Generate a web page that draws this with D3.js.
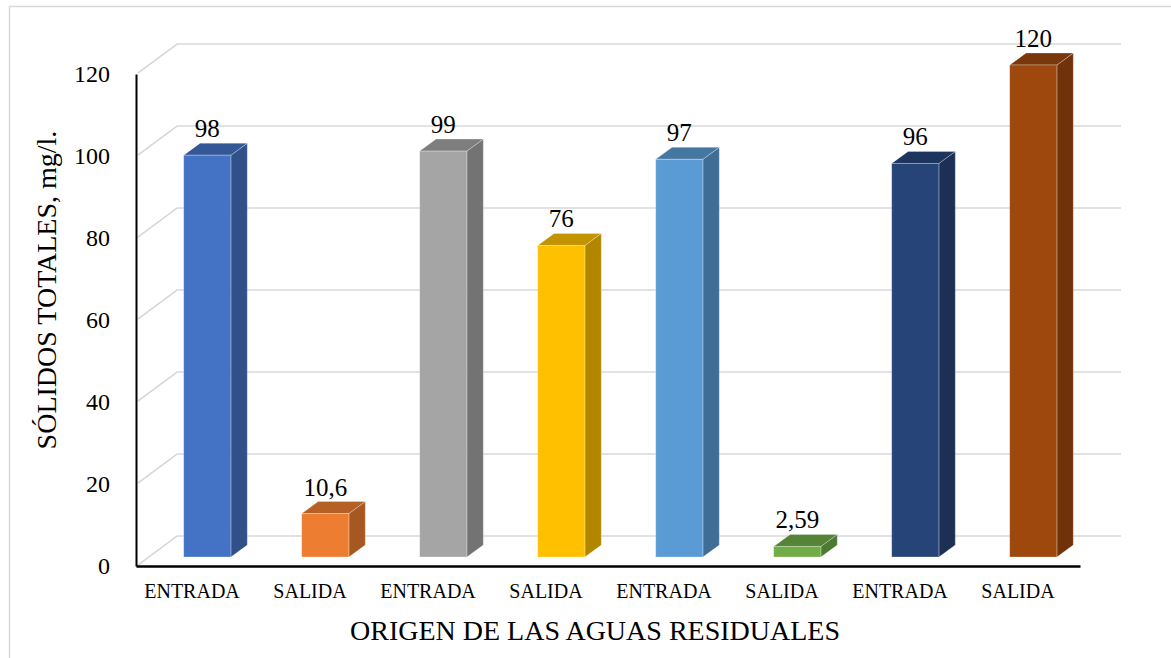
<!DOCTYPE html>
<html>
<head>
<meta charset="utf-8">
<script src="https://cdn.jsdelivr.net/npm/d3@7"></script>
<style>
  body { margin: 0; background: #fff; }
  svg { display: block; }
</style>
</head>
<body>
<div id="chart"></div>
<script>
var categories = ['ENTRADA', 'SALIDA', 'ENTRADA', 'SALIDA', 'ENTRADA', 'SALIDA', 'ENTRADA', 'SALIDA'];
var values = [98, 10.6, 99, 76, 97, 2.59, 96, 120];
var y_ticks = [0, 20, 40, 60, 80, 100, 120];
var palette = ['#4472C4', '#ED7D31', '#A5A5A5', '#FFC000', '#5B9BD5', '#70AD47', '#264478', '#9E480E'];

var chart_width = 1171;
var chart_height = 658;
var serif = "'Liberation Serif', 'Times New Roman', Times, serif";

// oblique depth of the floor / walls
var depth_x = 41;
var depth_y = -30;

var svg = d3.select('#chart')
    .append('svg')
    .attr('width', chart_width)
    .attr('height', chart_height);

// outer frame
svg.append('rect')
    .attr('x', 9.5)
    .attr('y', 6.5)
    .attr('width', 1200)
    .attr('height', 700)
    .attr('fill', 'none')
    .attr('stroke', '#d9d9d9')
    .attr('stroke-width', 1.5);

var x_scale = d3.scaleBand()
    .domain(d3.range(categories.length))
    .range([136, 1080]);

var y_scale = d3.scaleLinear()
    .domain([0, 120])
    .range([566, 74]);

function px(x, d) { return x + depth_x * d; }
function py(y, d) { return y + depth_y * d; }

// gridlines on side and back wall
var grid = svg.append('g').attr('class', 'grid');
grid.selectAll('path')
    .data(y_ticks)
    .enter()
    .append('path')
    .attr('d', function (t) {
        var y0 = y_scale(t);
        var x0 = x_scale.range()[0];
        var x1 = x_scale.range()[1];
        return 'M' + (x0 + 2) + ',' + (y0 - 1) +
            'L' + px(x0, 1) + ',' + py(y0, 1) +
            'L' + px(x1, 1) + ',' + py(y0, 1);
    })
    .attr('fill', 'none')
    .attr('stroke', '#d9d9d9')
    .attr('stroke-width', 1.6);

// 3d bars
var bw = x_scale.bandwidth();
var d_front = 0.3, d_back = 0.7;

var bars = svg.append('g')
    .attr('class', 'bars')
    .selectAll('g')
    .data(values)
    .enter()
    .append('g');

function barGeom(v, i) {
    var xl = x_scale(i) + bw * 0.3;
    var xr = x_scale(i) + bw * 0.7;
    var yt = y_scale(v);
    var yb = y_scale(0);
    return { xl: xl, xr: xr, yt: yt, yb: yb };
}

// side face
bars.append('path')
    .attr('d', function (v, i) {
        var g = barGeom(v, i);
        return 'M' + px(g.xr, d_front) + ',' + py(g.yt, d_front) +
            'L' + px(g.xr, d_back) + ',' + py(g.yt, d_back) +
            'L' + px(g.xr, d_back) + ',' + py(g.yb, d_back) +
            'L' + px(g.xr, d_front) + ',' + py(g.yb, d_front) + 'Z';
    })
    .attr('fill', function (v, i) { return d3.color(palette[i]).darker(1.0); })
    .attr('stroke', 'rgba(255,255,255,0.35)')
    .attr('stroke-width', 0.8);

// top face
bars.append('path')
    .attr('d', function (v, i) {
        var g = barGeom(v, i);
        return 'M' + px(g.xl, d_front) + ',' + py(g.yt, d_front) +
            'L' + px(g.xl, d_back) + ',' + py(g.yt, d_back) +
            'L' + px(g.xr, d_back) + ',' + py(g.yt, d_back) +
            'L' + px(g.xr, d_front) + ',' + py(g.yt, d_front) + 'Z';
    })
    .attr('fill', function (v, i) { return d3.color(palette[i]).darker(0.75); })
    .attr('stroke', 'rgba(255,255,255,0.35)')
    .attr('stroke-width', 0.8);

// front face
bars.append('rect')
    .attr('x', function (v, i) { return px(barGeom(v, i).xl, d_front); })
    .attr('y', function (v, i) { return py(barGeom(v, i).yt, d_front); })
    .attr('width', bw * 0.4)
    .attr('height', function (v, i) { var g = barGeom(v, i); return g.yb - g.yt; })
    .attr('fill', function (v, i) { return palette[i]; })
    .attr('stroke', 'rgba(255,255,255,0.35)')
    .attr('stroke-width', 0.8);

// value labels
bars.append('text')
    .attr('x', function (v, i) { return px(x_scale(i) + bw / 2, d_front); })
    .attr('y', function (v, i) { return py(y_scale(v), d_back) - 6; })
    .attr('text-anchor', 'middle')
    .style('font-family', serif)
    .style('font-size', '25px')
    .attr('fill', '#000')
    .text(function (v) { return String(v).replace('.', ','); });

// axes
var y_axis = d3.axisLeft(y_scale)
    .tickValues(y_ticks)
    .tickSize(0)
    .tickSizeOuter(0)
    .tickPadding(26);
var ya = svg.append('g')
    .attr('class', 'y-axis')
    .attr('transform', 'translate(' + x_scale.range()[0] + ',0)')
    .call(y_axis)
    .attr('font-family', null)
    .attr('font-size', null);
ya.select('.domain').attr('stroke', '#000').attr('stroke-width', 2);
ya.selectAll('text')
    .style('font-size', '24px')
    .style('font-family', serif)
    .attr('fill', '#000');

var x_axis = d3.axisBottom(x_scale)
    .tickSize(0)
    .tickSizeOuter(0)
    .tickPadding(18)
    .tickFormat(function (i) { return categories[i]; });
var xa = svg.append('g')
    .attr('class', 'x-axis')
    .attr('transform', 'translate(0,' + y_scale(0) + ')')
    .call(x_axis)
    .attr('font-family', null)
    .attr('font-size', null);
xa.select('.domain').attr('stroke', '#000').attr('stroke-width', 2.5);
xa.selectAll('text')
    .attr('dx', -3)
    .style('font-size', '20px')
    .style('font-family', serif)
    .attr('fill', '#000');

// axis titles
svg.append('text')
    .attr('x', 595)
    .attr('y', 640)
    .attr('text-anchor', 'middle')
    .style('font-family', serif)
    .style('font-size', '28px')
    .text('ORIGEN DE LAS AGUAS RESIDUALES');

svg.append('text')
    .attr('transform', 'translate(56,290) rotate(-90)')
    .attr('text-anchor', 'middle')
    .style('font-family', serif)
    .style('font-size', '28px')
    .text('SÓLIDOS TOTALES, mg/l.');
</script>
</body>
</html>
